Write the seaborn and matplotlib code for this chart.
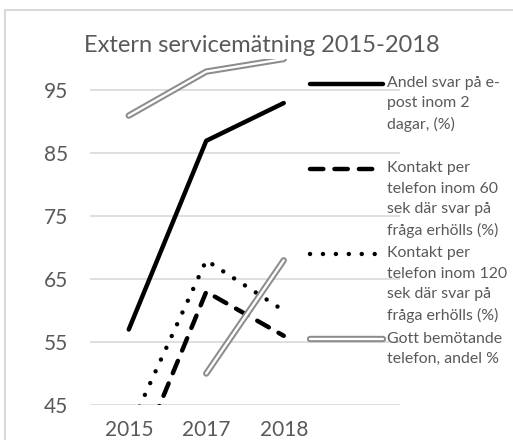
import numpy as np
import pandas as pd
import matplotlib
matplotlib.use("Agg")
import matplotlib.pyplot as plt
import matplotlib.patheffects as pe
from matplotlib.patches import Rectangle
from matplotlib.legend_handler import HandlerLine2D
import seaborn as sns

# Data
years = ["2015", "2017", "2018"]
epost = [57, 87, 93]            # Andel svar på e-post inom 2 dagar
tel_60 = [33, 63, 56]           # Kontakt per telefon inom 60 sek
tel_120 = [41, 68, 60]          # Kontakt per telefon inom 120 sek
bemotande_tel = [np.nan, 50, 68]  # Gott bemötande telefon
bemotande_ovr = [91, 98, 100]   # double line without legend entry

labels = [
    "Andel svar på e-\npost inom 2\ndagar, (%)\n",
    "Kontakt per\ntelefon inom 60\nsek där svar på\nfråga erhölls (%)",
    "Kontakt per\ntelefon inom 120\nsek där svar på\nfråga erhölls (%)",
    "Gott bemötande\ntelefon, andel %",
]

df = pd.DataFrame({
    "pos": range(len(years)),
    "year": years,
    "epost": epost,
    "tel_60": tel_60,
    "tel_120": tel_120,
    "bem_tel": bemotande_tel,
    "bem_ovr": bemotande_ovr,
})

sns.set_theme(style="white")
plt.rcParams["font.family"] = ["Lato", "DejaVu Sans"]

grey_txt = "#595959"
fig = plt.figure(figsize=(5.13, 4.4), dpi=100)
ax = fig.add_axes([90 / 513, 35 / 440, 310 / 513, 346 / 440])

lw = 3.2
double_fx = [pe.Stroke(linewidth=4.6, foreground="#8c8c8c"), pe.Normal()]

sns.lineplot(data=df, x="pos", y="bem_ovr", ax=ax, color="white", lw=1.7,
             path_effects=double_fx, solid_capstyle="round", errorbar=None,
             label="_nolegend_")
sns.lineplot(data=df, x="pos", y="epost", ax=ax, color="black", lw=lw,
             solid_capstyle="round", errorbar=None, label=labels[0])
sns.lineplot(data=df, x="pos", y="tel_60", ax=ax, color="black", lw=lw,
             ls=(0, (3, 2.5)), dash_capstyle="round", errorbar=None,
             label=labels[1])
sns.lineplot(data=df, x="pos", y="tel_120", ax=ax, color="black", lw=lw,
             ls=(0, (0.01, 2.9)), dash_capstyle="round", errorbar=None,
             label=labels[2])
sns.lineplot(data=df, x="pos", y="bem_tel", ax=ax, color="white", lw=1.7,
             path_effects=double_fx, solid_capstyle="round", errorbar=None,
             label=labels[3])

# four category slots, last one empty
ax.set_xlim(-0.5, 3.5)
ax.set_ylim(45, 100)
ax.set_xticks(range(len(years)))
ax.set_xticklabels(years)
ax.set_yticks(range(45, 100, 10))
ax.set_xlabel("")
ax.set_ylabel("")
ax.tick_params(axis="both", length=0, labelsize=15, colors=grey_txt)
ax.tick_params(axis="y", pad=16)
ax.tick_params(axis="x", pad=11)
ax.yaxis.grid(True, color="#d9d9d9", lw=1.2)
ax.set_axisbelow(True)
for s in ax.spines.values():
    s.set_visible(False)


# legend handles sit at the first text line, like Excel does it
class TopLine(HandlerLine2D):
    def __init__(self, shift, **kw):
        super().__init__(**kw)
        self.shift = shift

    def create_artists(self, legend, orig_handle, xdescent, ydescent,
                       width, height, fontsize, trans):
        arts = super().create_artists(legend, orig_handle, xdescent, ydescent,
                                      width, height, fontsize, trans)
        for a in arts:
            a.set_ydata(np.asarray(a.get_ydata()) + self.shift)
        return arts


line_pt = 14.76
handles, lbls = ax.get_legend_handles_labels()
hmap = {h: TopLine((l.count("\n")) / 2 * line_pt) for h, l in zip(handles, lbls)}
leg = ax.legend(handles, lbls, handler_map=hmap, frameon=False,
                loc="upper left", bbox_to_anchor=(310 / 513, 1 - 76 / 440),
                bbox_transform=fig.transFigure, borderpad=0, borderaxespad=0,
                handlelength=4.6, handletextpad=0.25, labelspacing=0.53,
                prop={"size": 11.4})
for t in leg.get_texts():
    t.set_color(grey_txt)
    t.set_linespacing(1.58)

fig.text(262 / 513, 1 - 46 / 440, "Extern servicemätning 2015-2018",
         ha="center", va="center", fontsize=17, color=grey_txt)

# outer chart frame
fig.patches.append(Rectangle((5 / 513, -0.2), 1.2, 1.2 - 10 / 440,
                             transform=fig.transFigure, fill=False,
                             edgecolor="#d9d9d9", lw=1.5))

fig.savefig("out.png", dpi=100)
